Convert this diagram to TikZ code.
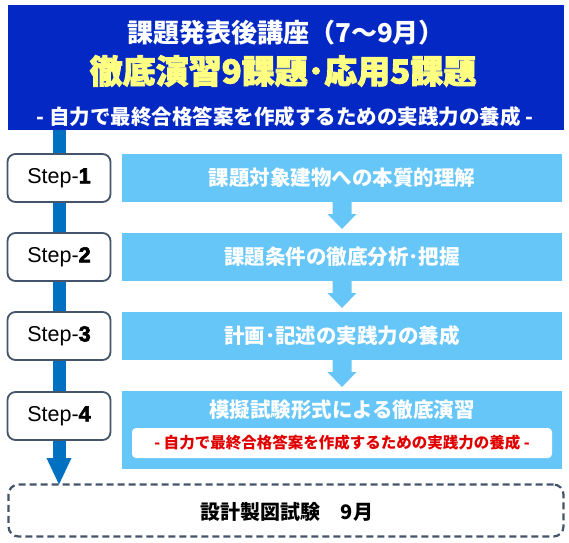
\documentclass[tikz,border=0pt]{standalone}
\usepackage{fontspec}
\setmainfont{Liberation Sans}
\newfontfamily\jp{Noto Sans CJK JP}
\newfontfamily\jpheavy{Noto Sans CJK JP}[BoldFeatures={FakeBold=2.5}]
\newfontfamily\heavyfont{Liberation Sans}[BoldFeatures={FakeBold=3}]
\usetikzlibrary{calc}
\definecolor{hdrblue}{RGB}{4,40,196}
\definecolor{lblue}{RGB}{102,198,248}
\definecolor{connblue}{RGB}{0,112,192}
\definecolor{slate}{RGB}{68,84,106}
\definecolor{popyellow}{RGB}{255,255,130}
\definecolor{redtxt}{RGB}{225,0,0}
\begin{document}
\begin{tikzpicture}[x=1pt,y=-1pt,
  every node/.style={inner sep=0pt,outer sep=0pt},
  hdrbox/.style={fill=hdrblue,minimum width=556pt,minimum height=125pt},
  stepbox/.style={draw=slate,line width=1.8pt,fill=white,rounded corners=8pt,
    minimum width=103pt,minimum height=48pt,font=\fontsize{21.5}{21.5}\selectfont},
  taskbox/.style={fill=lblue,minimum width=440pt,minimum height=48pt},
  tasktext/.style={text=white,font=\jp\bfseries\fontsize{20.5}{21}\selectfont},
  flowarrow/.style={fill=lblue},
  connbar/.style={fill=connblue},
  finalbox/.style={draw=slate,line width=2.2pt,dash pattern=on 7pt off 4pt,
    rounded corners=10pt,fill=white,minimum width=555pt,minimum height=52pt}]
\useasboundingbox (0,0) rectangle (569,542);

% header
\node[hdrbox] (hdr) at (286,67.5) {};
\node[text=white,font=\jp\bfseries\fontsize{26}{26}\selectfont] (t1) at (286,33) {課題発表後講座（7～9月）};
\node[text=popyellow,font=\jpheavy\bfseries\fontsize{33}{33}\selectfont] (t2) at (283,71) {徹底演習9課題･応用5課題};
\node[text=white,font=\jp\bfseries\fontsize{20.5}{21}\selectfont] (t3) at (285,117) {- 自力で最終合格答案を作成するための実践力の養成 -};

% step boxes positions
\coordinate (s1c) at (59,178);
\coordinate (s4c) at (59,416);
\node[finalbox] (fin) at (286,510.5) {};
\node[font=\jp\bfseries\fontsize{20}{20}\selectfont] (fint) at (287,512) {設計製図試験　9月};

% connector bar with arrow head
\coordinate (ctop) at (s1c |- hdr.south);
\fill[connbar] ($(ctop)+(-6.5,0)$) rectangle ($(s4c)+(6.5,42)$);
\fill[connbar] ($(s4c)+(-12.5,42)$) -- ($(s4c)+(12.5,42)$) -- (s4c |- fin.north) -- cycle;

\node[stepbox] (s1) at (s1c) {Step-{\heavyfont\bfseries 1}};
\node[stepbox] (s2) at (59,257) {Step-{\heavyfont\bfseries 2}};
\node[stepbox] (s3) at (59,336) {Step-{\heavyfont\bfseries 3}};
\node[stepbox] (s4) at (s4c) {Step-{\heavyfont\bfseries 4}};

% task boxes
\node[taskbox] (b1) at (342,178) {};
\node[taskbox] (b2) at (342,257) {};
\node[taskbox] (b3) at (342,336) {};
\node[taskbox,minimum height=78pt] (b4) at (342,430) {};
\node[tasktext] (b1t) at (b1.center) {課題対象建物への本質的理解};
\node[tasktext] (b2t) at (b2.center) {課題条件の徹底分析･把握};
\node[tasktext] (b3t) at (b3.center) {計画･記述の実践力の養成};
\node[tasktext] (b4t) at (342,410) {模擬試験形式による徹底演習};
\node[fill=white,rounded corners=4pt,minimum width=420pt,minimum height=30pt] (w4) at (342,443) {};
\node[text=redtxt,font=\jp\bfseries\fontsize{15.5}{16}\selectfont] (w4t) at (w4.center) {- 自力で最終合格答案を作成するための実践力の養成 -};

% arrows between task boxes
\foreach \a/\b in {b1/b2,b2/b3,b3/b4}{
  \fill[flowarrow] ($(\a.south)+(-9.5,-1)$) -- ($(\a.south)+(-9.5,12)$) -- ($(\a.south)+(-14.5,12)$)
    -- ($(\b.north)+(0,-4)$) -- ($(\a.south)+(14.5,12)$) -- ($(\a.south)+(9.5,12)$)
    -- ($(\a.south)+(9.5,-1)$) -- cycle;
}
\end{tikzpicture}
\end{document}
